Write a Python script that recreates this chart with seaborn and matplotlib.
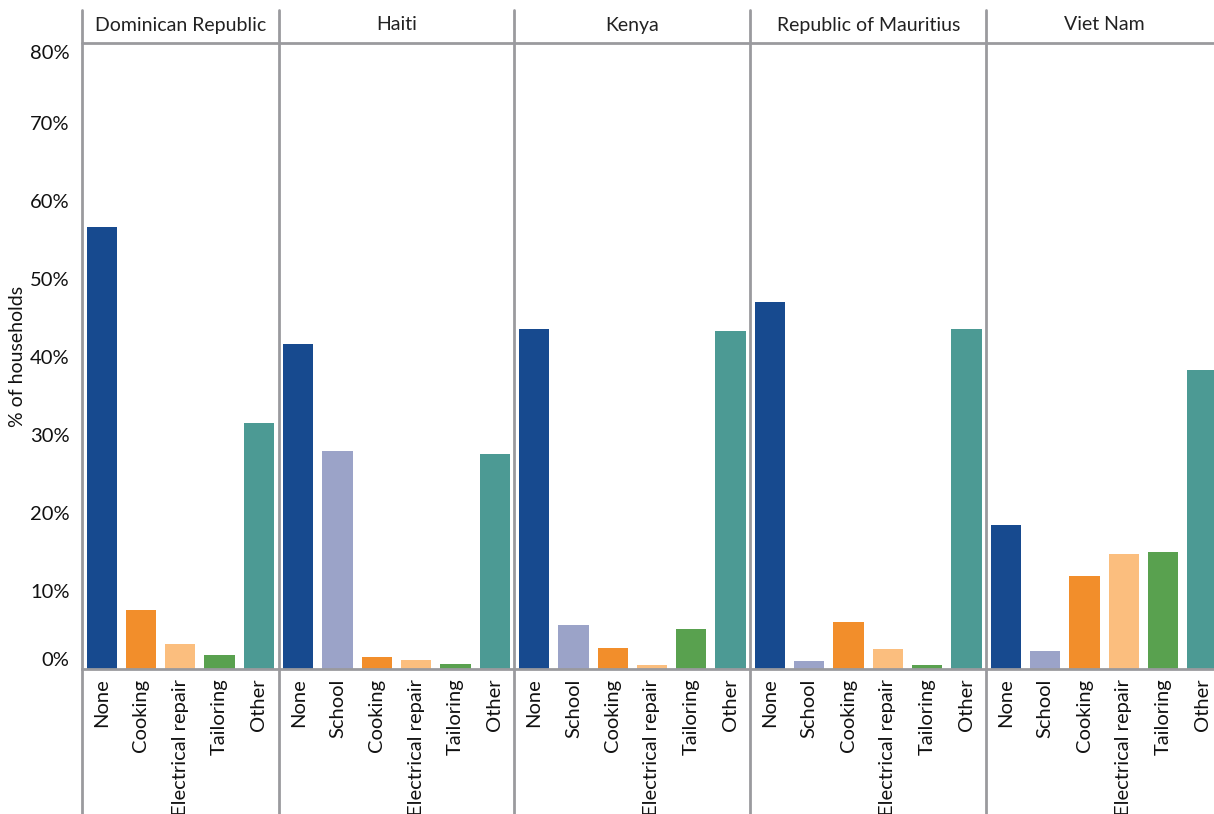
import matplotlib
matplotlib.use("Agg")
import matplotlib.pyplot as plt
from matplotlib.lines import Line2D
import seaborn as sns
import pandas as pd

countries = ["Dominican Republic", "Haiti", "Kenya", "Republic of Mauritius", "Viet Nam"]
cats_dr = ["None", "Cooking", "Electrical repair", "Tailoring", "Other"]
cats_all = ["None", "School", "Cooking", "Electrical repair", "Tailoring", "Other"]
values = {
    "Dominican Republic": [56.7, 7.6, 3.2, 1.8, 31.5],
    "Haiti": [41.7, 27.9, 1.5, 1.2, 0.6, 27.6],
    "Kenya": [43.6, 5.6, 2.7, 0.5, 5.1, 43.3],
    "Republic of Mauritius": [47.1, 1.0, 6.0, 2.6, 0.5, 43.6],
    "Viet Nam": [18.5, 2.3, 11.9, 14.7, 15.0, 38.3],
}
colors = {
    "None": "#174A8F",
    "School": "#9BA3C8",
    "Cooking": "#F28E2B",
    "Electrical repair": "#FBBE7E",
    "Tailoring": "#59A14F",
    "Other": "#4C9A94",
}
yticks = [0, 10, 20, 30, 40, 50, 60, 70, 80]

sns.set_theme(style="white")
plt.rcParams["font.family"] = ["Lato", "DejaVu Sans"]

W, H = 1214, 814
fig = plt.figure(figsize=(W / 100, H / 100), dpi=100)
left, right = 82 / W, 1222 / W
bottom, top = (H - 669) / H, (H - 43) / H
gs = fig.add_gridspec(1, 5, left=left, right=right, bottom=bottom, top=top,
                      wspace=0, width_ratios=[5, 6, 6, 6, 6])
grey = "#9A9A9E"
fs = 14.5
axes = []
for i, c in enumerate(countries):
    ax = fig.add_subplot(gs[0, i], sharey=axes[0] if axes else None)
    cats = cats_dr if c == "Dominican Republic" else cats_all
    df = pd.DataFrame({"cat": cats, "val": values[c]})
    sns.barplot(data=df, x="cat", y="val", hue="cat", order=cats, hue_order=cats,
                palette=colors, width=0.77, legend=False, ax=ax, saturation=1,
                linewidth=0)
    ax.set_xlim(-0.5, len(cats) - 0.5)
    ax.set_ylim(0, 80.3)
    ax.set_xlabel("")
    ax.set_ylabel("")
    for s in ["top", "right", "left"]:
        ax.spines[s].set_visible(False)
    ax.spines["bottom"].set_color(grey)
    ax.spines["bottom"].set_linewidth(2)
    ax.tick_params(axis="x", length=0, pad=7, labelsize=fs, rotation=90, labelcolor="#111111")
    ax.tick_params(axis="y", length=0)
    if i > 0:
        ax.tick_params(axis="y", labelleft=False)
    axes.append(ax)

ax0 = axes[0]
ax0.set_yticks(yticks)
ax0.set_yticklabels([f"{t}%" for t in yticks], fontsize=fs, color="#111111")
tl = ax0.get_yticklabels()
tl[0].set_verticalalignment("bottom")
tl[-1].set_verticalalignment("top")
ax0.tick_params(axis="y", pad=9)
fig.text(18 / W, (bottom + top) / 2, "% of households", rotation=90, ha="center",
         va="center", fontsize=fs - 0.5, color="#111111")

# header and separators
fig.add_artist(Line2D([left, 1.0], [top, top], transform=fig.transFigure, color=grey, lw=2))
ytop = (H - 10) / H
for ax, c in zip(axes, countries):
    pos = ax.get_position()
    fig.add_artist(Line2D([pos.x0, pos.x0], [0, ytop], transform=fig.transFigure, color=grey, lw=2))
    fig.text((pos.x0 + pos.x1) / 2, (H - 25) / H, c, ha="center", va="center",
             fontsize=fs - 0.5, color="#222222")

fig.savefig("out.png", dpi=100)
